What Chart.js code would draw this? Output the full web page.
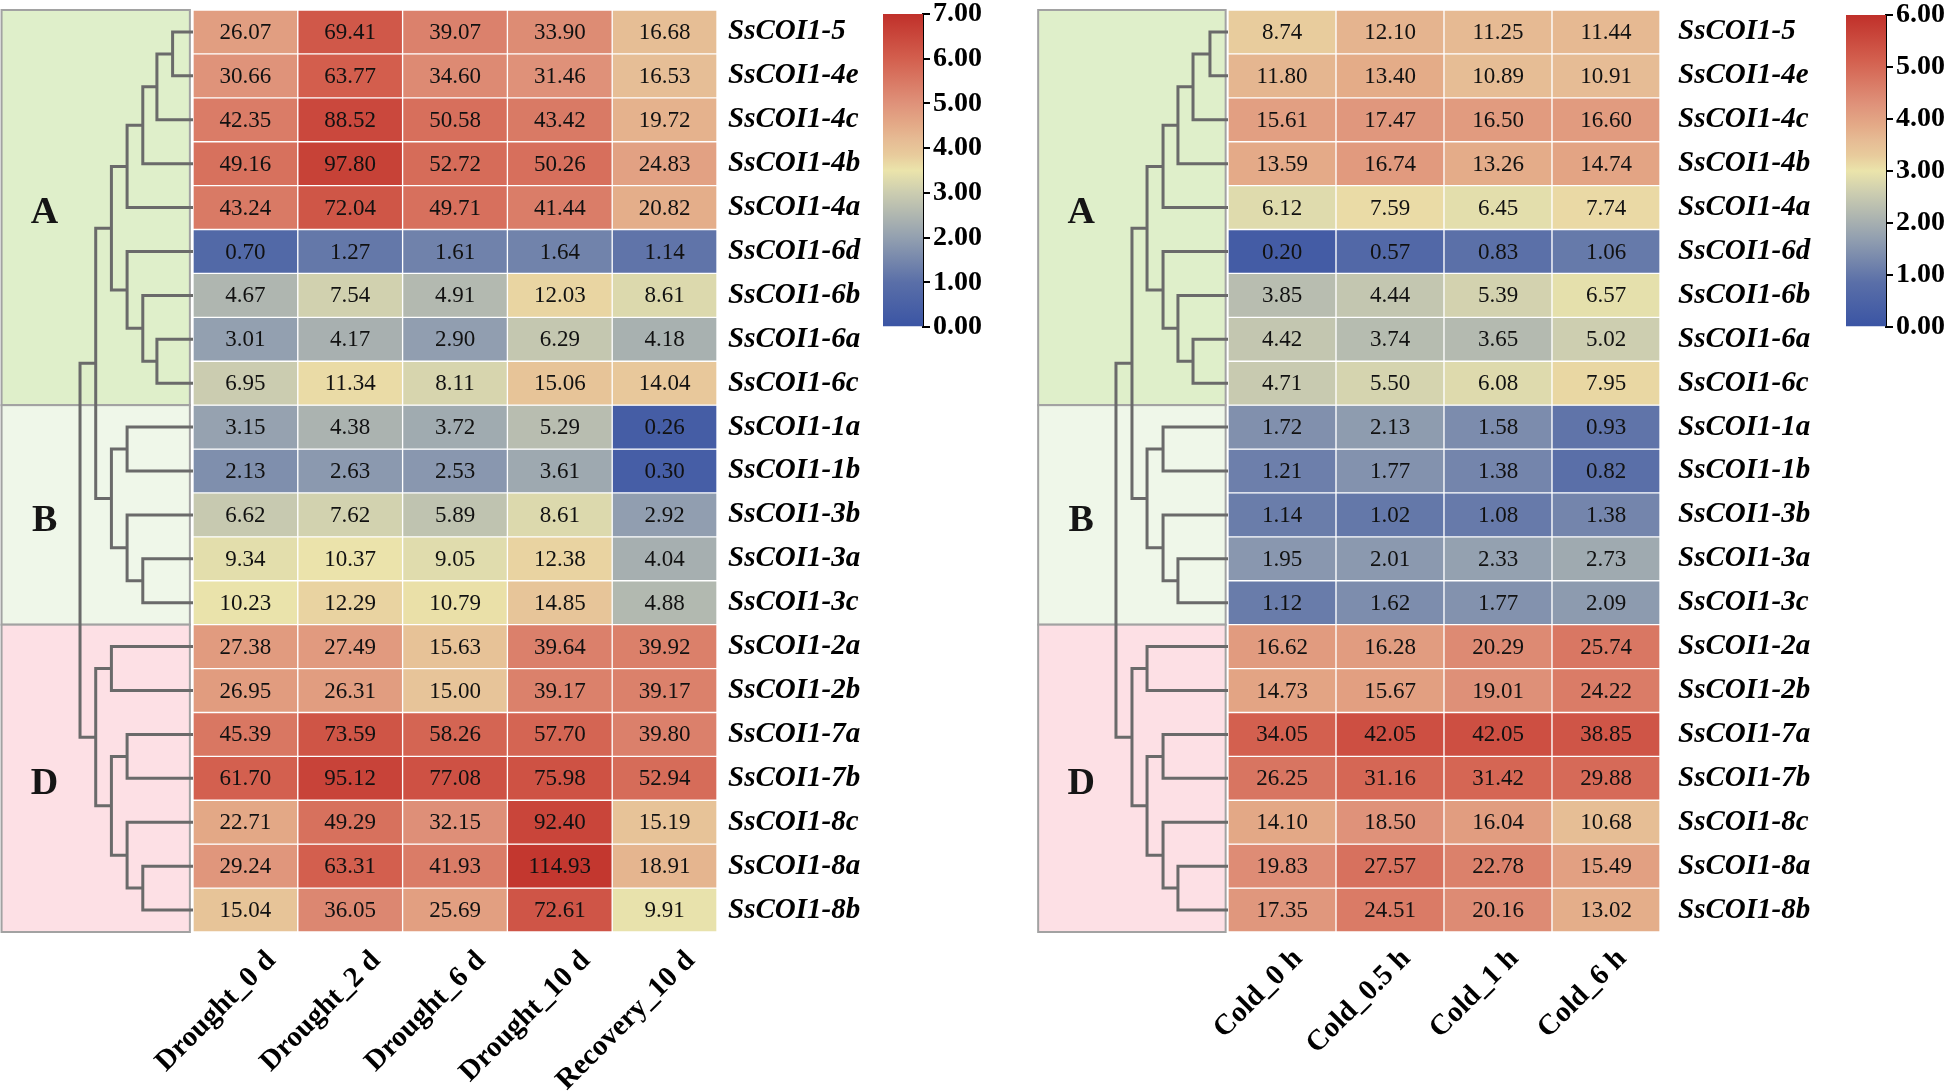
<!DOCTYPE html>
<html>
<head>
<meta charset="utf-8">
<script src="https://cdn.jsdelivr.net/npm/chart.js@4.4.0/dist/chart.umd.min.js"></script>
<style>
  body { margin: 0; background: #fff; width: 1952px; height: 1092px; overflow: hidden; position: relative; }
  canvas { position: absolute; }
</style>
</head>
<body>
<canvas id="dendroL" width="193" height="942" style="left:0;top:0"></canvas>
<canvas id="heatL" width="824" height="1092" style="left:63px;top:0"></canvas>
<canvas id="barL" width="120" height="341" style="left:883px;top:0"></canvas>
<canvas id="dendroR" width="198" height="942" style="left:1030px;top:0"></canvas>
<canvas id="heatR" width="732" height="1092" style="left:1098px;top:0"></canvas>
<canvas id="barR" width="120" height="341" style="left:1846px;top:0"></canvas>
<script>
// rows, top to bottom
const genes = ['SsCOI1-5', 'SsCOI1-4e', 'SsCOI1-4c', 'SsCOI1-4b', 'SsCOI1-4a', 'SsCOI1-6d', 'SsCOI1-6b',
  'SsCOI1-6a', 'SsCOI1-6c', 'SsCOI1-1a', 'SsCOI1-1b', 'SsCOI1-3b', 'SsCOI1-3a', 'SsCOI1-3c',
  'SsCOI1-2a', 'SsCOI1-2b', 'SsCOI1-7a', 'SsCOI1-7b', 'SsCOI1-8c', 'SsCOI1-8a', 'SsCOI1-8b'];

const droughtCols = ['Drought_0 d', 'Drought_2 d', 'Drought_6 d', 'Drought_10 d', 'Recovery_10 d'];
const coldCols    = ['Cold_0 h', 'Cold_0.5 h', 'Cold_1 h', 'Cold_6 h'];

const drought0d   = [26.07, 30.66, 42.35, 49.16, 43.24, 0.70, 4.67, 3.01, 6.95, 3.15, 2.13, 6.62, 9.34, 10.23, 27.38, 26.95, 45.39, 61.70, 22.71, 29.24, 15.04];
const drought2d   = [69.41, 63.77, 88.52, 97.80, 72.04, 1.27, 7.54, 4.17, 11.34, 4.38, 2.63, 7.62, 10.37, 12.29, 27.49, 26.31, 73.59, 95.12, 49.29, 63.31, 36.05];
const drought6d   = [39.07, 34.60, 50.58, 52.72, 49.71, 1.61, 4.91, 2.90, 8.11, 3.72, 2.53, 5.89, 9.05, 10.79, 15.63, 15.00, 58.26, 77.08, 32.15, 41.93, 25.69];
const drought10d  = [33.90, 31.46, 43.42, 50.26, 41.44, 1.64, 12.03, 6.29, 15.06, 5.29, 3.61, 8.61, 12.38, 14.85, 39.64, 39.17, 57.70, 75.98, 92.40, 114.93, 72.61];
const recovery10d = [16.68, 16.53, 19.72, 24.83, 20.82, 1.14, 8.61, 4.18, 14.04, 0.26, 0.30, 2.92, 4.04, 4.88, 39.92, 39.17, 39.80, 52.94, 15.19, 18.91, 9.91];

const cold0h  = [8.74, 11.80, 15.61, 13.59, 6.12, 0.20, 3.85, 4.42, 4.71, 1.72, 1.21, 1.14, 1.95, 1.12, 16.62, 14.73, 34.05, 26.25, 14.10, 19.83, 17.35];
const cold05h = [12.10, 13.40, 17.47, 16.74, 7.59, 0.57, 4.44, 3.74, 5.50, 2.13, 1.77, 1.02, 2.01, 1.62, 16.28, 15.67, 42.05, 31.16, 18.50, 27.57, 24.51];
const cold1h  = [11.25, 10.89, 16.50, 13.26, 6.45, 0.83, 5.39, 3.65, 6.08, 1.58, 1.38, 1.08, 2.33, 1.77, 20.29, 19.01, 42.05, 31.42, 16.04, 22.78, 20.16];
const cold6h  = [11.44, 10.91, 16.60, 14.74, 7.74, 1.06, 6.57, 5.02, 7.95, 0.93, 0.82, 1.38, 2.73, 2.09, 25.74, 24.22, 38.85, 29.88, 10.68, 15.49, 13.02];

// colour bar ranges (log2(value + 1))
const droughtMax = 7;
const coldMax = 6;

// dendrogram: nodes 0..20 are rows, merge k makes node 21 + k
const mergePairs = [[0, 1], [21, 2], [22, 3], [23, 4], [7, 8], [6, 25], [5, 26], [24, 27],
  [9, 10], [12, 13], [11, 30], [29, 31], [28, 32], [14, 15], [16, 17], [19, 20], [18, 36],
  [35, 37], [34, 38], [33, 39]];
const mergeLevels = [1, 2, 3, 4, 2, 3, 4, 5, 4, 3, 4, 5, 6, 5, 4, 3, 4, 5, 6, 7];
const droughtLevelHeights = [1.3, 2.3, 3.2, 4.2, 5.2, 6.2, 7.2];
const coldLevelHeights    = [1.15, 2.23, 3.19, 4.14, 5.16, 6.12, 7.14];

const clusters = [
  { name: 'A', from: 0,  to: 9,  color: '#dfefca' },
  { name: 'B', from: 9,  to: 14, color: '#eff7e9' },
  { name: 'D', from: 14, to: 21, color: '#fde0e5' },
];

const SERIF = '"Liberation Serif", "Times New Roman", serif';
Chart.defaults.font.family = SERIF;

const cmapStops = [
  [0.000, [58, 84, 164]],
  [0.143, [90, 111, 168]],
  [0.286, [147, 160, 176]],
  [0.430, [204, 205, 176]],
  [0.500, [235, 228, 171]],
  [0.550, [232, 203, 156]],
  [0.600, [230, 187, 148]],
  [0.643, [228, 171, 136]],
  [0.714, [223, 146, 122]],
  [0.857, [211, 95, 78]],
  [1.000, [192, 48, 42]],
];

function cmap(t) {
  t = Math.max(0, Math.min(1, t));
  for (let i = 1; i < cmapStops.length; i++) {
    const [t1, c1] = cmapStops[i];
    const [t0, c0] = cmapStops[i - 1];
    if (t <= t1) {
      const f = (t - t0) / (t1 - t0);
      const c = c0.map((v, k) => Math.round(v + (c1[k] - v) * f));
      return `rgb(${c[0]},${c[1]},${c[2]})`;
    }
  }
  return 'rgb(192,48,42)';
}

const colorFor = (v, max) => cmap(Math.log2(v + 1) / max);

const clusterBoxes = {
  id: 'clusterBoxes',
  beforeDatasetsDraw(chart, args, opts) {
    const { ctx, scales: { x, y } } = chart;
    ctx.save();
    clusters.forEach(c => {
      const l = x.getPixelForValue(opts.boxFrom), r = x.getPixelForValue(opts.boxTo);
      const t = y.getPixelForValue(c.from), b = y.getPixelForValue(c.to);
      ctx.fillStyle = c.color;
      ctx.fillRect(l, t, r - l, b - t);
      ctx.strokeStyle = '#a2a2a2';
      ctx.lineWidth = 2;
      ctx.strokeRect(l, t, r - l, b - t);
      ctx.fillStyle = '#151515';
      ctx.font = `bold 38px ${SERIF}`;
      ctx.textAlign = 'center';
      ctx.textBaseline = 'middle';
      ctx.fillText(c.name, l + 43, (t + b) / 2 + 6);
    });
    ctx.restore();
  },
};

function dendrogram(id, levelHeights, xMax, boxFrom, boxTo) {
  const pos = genes.map((g, i) => ({ x: 0, y: i + 0.5 }));
  const segments = mergePairs.map(([a, b], k) => {
    const h = levelHeights[mergeLevels[k] - 1];
    const pa = pos[a], pb = pos[b];
    pos.push({ x: h, y: (pa.y + pb.y) / 2 });
    return [{ x: pa.x, y: pa.y }, { x: h, y: pa.y }, { x: h, y: pb.y }, { x: pb.x, y: pb.y }];
  });
  return new Chart(document.getElementById(id), {
    type: 'scatter',
    data: {
      datasets: segments.map(pts => ({
        data: pts, showLine: true, borderColor: '#6a6a6a', borderWidth: 3,
        pointRadius: 0, tension: 0, clip: false,
      })),
    },
    options: {
      responsive: false, animation: false,
      layout: { padding: { top: 10, bottom: 10, left: 0, right: 0 } },
      plugins: { legend: { display: false }, tooltip: { enabled: false }, clusterBoxes: { boxFrom, boxTo } },
      scales: {
        x: { type: 'linear', display: false, min: 0, max: xMax, reverse: true },
        y: { type: 'linear', display: false, min: 0, max: 21, reverse: true },
      },
    },
    plugins: [clusterBoxes],
  });
}

function heatmap(id, cols, series, max, labelPad, colShift, colPad) {
  const cellText = {
    id: 'cellText',
    afterDatasetsDraw(chart) {
      const { ctx, scales: { x, y } } = chart;
      ctx.save();
      ctx.font = `23px ${SERIF}`;
      ctx.fillStyle = '#111';
      ctx.textAlign = 'center';
      ctx.textBaseline = 'middle';
      series.forEach((s, c) => s.forEach((v, r) => {
        ctx.fillText(v.toFixed(2), x.getPixelForValue(c), y.getPixelForValue(r + 0.5) + 1);
      }));
      ctx.restore();
    },
  };
  return new Chart(document.getElementById(id), {
    type: 'bar',
    data: {
      labels: cols,
      datasets: genes.map((g, r) => ({
        data: cols.map(() => [r, r + 1]),
        backgroundColor: series.map(s => colorFor(s[r], max)),
        borderColor: '#ffffff', borderWidth: 1, borderSkipped: false,
        grouped: false, barPercentage: 1, categoryPercentage: 1,
      })),
    },
    options: {
      responsive: false, animation: false,
      layout: { padding: { left: 130, top: 10, right: 0, bottom: 0 } },
      plugins: { legend: { display: false }, tooltip: { enabled: false } },
      scales: {
        x: {
          type: 'category',
          grid: { display: false, drawTicks: false }, border: { display: false },
          ticks: {
            color: '#000', font: { size: 29, weight: 'bold' },
            minRotation: 45, maxRotation: 45, autoSkip: false, padding: colPad, labelOffset: colShift,
          },
          afterFit: s => { s.height = 160; s.paddingLeft = 0; s.paddingRight = 0; },
        },
        y: {
          type: 'linear', position: 'right', min: 0, max: 21, reverse: true,
          grid: { display: false, drawTicks: false }, border: { display: false },
          afterBuildTicks: s => { s.ticks = genes.map((g, i) => ({ value: i + 0.5 })); },
          ticks: {
            callback: (v, i) => genes[i],
            color: '#000', font: { size: 29, weight: 'bold', style: 'italic' }, padding: labelPad,
          },
          afterFit: s => { s.width = 170; s.paddingTop = 0; s.paddingBottom = 0; },
        },
      },
    },
    plugins: [cellText],
  });
}

function colorbar(id, max, top) {
  return new Chart(document.getElementById(id), {
    type: 'bar',
    data: {
      labels: [''],
      datasets: [{
        data: [[0, max]],
        backgroundColor: ctx => {
          const { chart } = ctx;
          if (!chart.chartArea) return cmap(0.5);
          const y = chart.scales.y;
          const g = chart.ctx.createLinearGradient(0, y.getPixelForValue(0), 0, y.getPixelForValue(max));
          cmapStops.forEach(([t]) => g.addColorStop(t, cmap(t)));
          return g;
        },
        borderWidth: 0, barPercentage: 1, categoryPercentage: 1,
      }],
    },
    options: {
      responsive: false, animation: false,
      layout: { padding: { top, bottom: 14, left: 0, right: 0 } },
      plugins: { legend: { display: false }, tooltip: { enabled: false } },
      scales: {
        x: { display: false },
        y: {
          position: 'right', min: 0, max,
          ticks: { stepSize: 1, callback: v => v.toFixed(2), color: '#000', font: { size: 28, weight: 'bold' }, padding: 3 },
          grid: { drawOnChartArea: false, color: '#000', lineWidth: 2, tickLength: 7 },
          border: { display: true, color: '#000', width: 2 },
          afterFit: s => { s.width = 80; s.paddingTop = 0; s.paddingBottom = 0; },
        },
      },
    },
  });
}

dendrogram('dendroL', droughtLevelHeights, 12.3, 12.2, 0.2);
heatmap('heatL', droughtCols, [drought0d, drought2d, drought6d, drought10d, recovery10d], droughtMax, 11, 26, 12);
colorbar('barL', droughtMax, 14);

dendrogram('dendroR', coldLevelHeights, 12.62, 12.1, 0.15);
heatmap('heatR', coldCols, [cold0h, cold05h, cold1h, cold6h], coldMax, 18, 16, 10);
colorbar('barR', coldMax, 15);
</script>
</body>
</html>
